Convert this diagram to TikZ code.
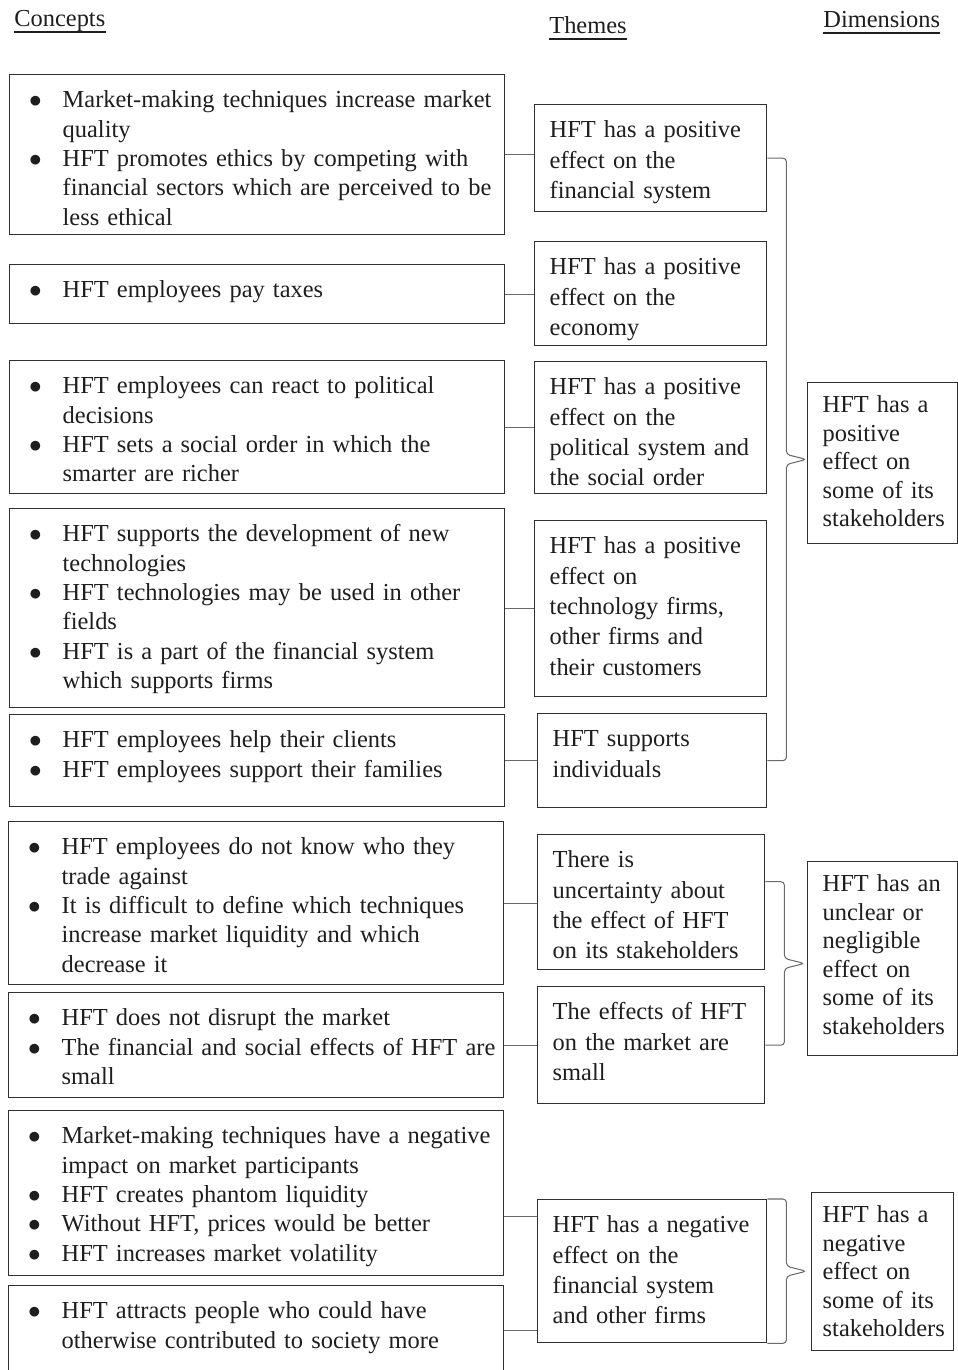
\documentclass[tikz,border=0pt]{standalone}
\usepackage{fontspec}
\setmainfont{Liberation Serif}
\definecolor{hftInk}{HTML}{1E1E1E}
\definecolor{hftLine}{HTML}{303030}
\definecolor{hftLink}{HTML}{6A6A6A}
\usetikzlibrary{calc}
\newcommand{\bitem}{\makebox[0.96cm][l]{\hspace{0.29cm}$\bullet$}}
\newcommand{\bcont}{\hspace*{0.96cm}}

\begin{document}
\begin{tikzpicture}[
  concept/.style={draw=hftLine, line width=0.8pt, text=hftInk, anchor=north west, align=left,
    inner xsep=0.1cm, inner ysep=0pt, text width=9.7cm, text height=0.66cm,
    font=\fontsize{13.9}{16.7}\selectfont},
  theme/.style={draw=hftLine, line width=0.8pt, text=hftInk, anchor=north west, align=left,
    inner xsep=0.3cm, inner ysep=0pt, text width=4.04cm, text height=0.66cm,
    font=\fontsize{13.9}{17.3}\selectfont},
  dimension/.style={draw=hftLine, line width=0.8pt, text=hftInk, anchor=north west, align=left,
    inner xsep=0.3cm, inner ysep=0pt, text width=2.4cm, text height=0.6cm,
    font=\fontsize{13.9}{16.2}\selectfont},
  heading/.style={anchor=base west, inner sep=0pt, text=hftInk, font=\fontsize{13.9}{17}\selectfont},
  link/.style={draw=hftLink, line width=0.6pt},
  dimbrace/.style={link, rounded corners=2pt}
]
  \useasboundingbox (0,0) rectangle (19.14,-27.4);

  % Column headings
  \node[heading] (hconcepts) at (0.28,-0.54) {Concepts};
  \node[heading] (hthemes) at (10.98,-0.68) {Themes};
  \node[heading] (hdims) at (16.46,-0.56) {Dimensions};
  \foreach \h in {hconcepts,hthemes,hdims}
    \draw[hftInk, line width=0.9pt] ([yshift=-0.1cm]\h.base west) -- ([yshift=-0.1cm]\h.base east);

  % Concepts
  \node[concept, text depth=2.54cm] (c1) at (0.18,-1.48) {\bitem Market-making techniques increase market\\
    \bcont quality\\
    \bitem HFT promotes ethics by competing with\\
    \bcont financial sectors which are perceived to be\\
    \bcont less ethical};
  \node[concept, text depth=0.52cm] (c2) at (0.18,-5.28) {\bitem HFT employees pay taxes};
  \node[concept, text depth=2.00cm] (c3) at (0.18,-7.20) {\bitem HFT employees can react to political\\
    \bcont decisions\\
    \bitem HFT sets a social order in which the\\
    \bcont smarter are richer};
  \node[concept, text depth=3.32cm] (c4) at (0.18,-10.16) {\bitem HFT supports the development of new\\
    \bcont technologies\\
    \bitem HFT technologies may be used in other\\
    \bcont fields\\
    \bitem HFT is a part of the financial system\\
    \bcont which supports firms};
  \node[concept, text depth=1.18cm] (c5) at (0.18,-14.28) {\bitem HFT employees help their clients\\
    \bitem HFT employees support their families};
  \node[concept, text depth=2.60cm] (c6) at (0.16,-16.42) {\bitem HFT employees do not know who they\\
    \bcont trade against\\
    \bitem It is difficult to define which techniques\\
    \bcont increase market liquidity and which\\
    \bcont decrease it};
  \node[concept, text depth=1.44cm] (c7) at (0.16,-19.84) {\bitem HFT does not disrupt the market\\
    \bitem The financial and social effects of HFT are\\
    \bcont small};
  \node[concept, text depth=2.64cm] (c8) at (0.16,-22.20) {\bitem Market-making techniques have a negative\\
    \bcont impact on market participants\\
    \bitem HFT creates phantom liquidity\\
    \bitem Without HFT, prices would be better\\
    \bitem HFT increases market volatility};
  \node[concept, text depth=1.14cm] (c9) at (0.16,-25.70) {\bitem HFT attracts people who could have\\
    \bcont otherwise contributed to society more};

  % Themes
  \node[theme, text depth=1.48cm] (t1) at (10.68,-2.08) {HFT has a positive\\effect on the\\financial system};
  \node[theme, text depth=1.42cm] (t2) at (10.68,-4.82) {HFT has a positive\\effect on the\\economy};
  \node[theme, text depth=1.98cm] (t3) at (10.68,-7.22) {HFT has a positive\\effect on the\\political system and\\the social order};
  \node[theme, text depth=2.86cm] (t4) at (10.68,-10.40) {HFT has a positive\\effect on\\technology firms,\\other firms and\\their customers};
  \node[theme, text depth=1.22cm, text width=3.98cm] (t5) at (10.74,-14.26) {HFT supports\\individuals};
  \node[theme, text depth=2.04cm, text width=3.94cm] (t6) at (10.74,-16.68) {There is\\uncertainty about\\the effect of HFT\\on its stakeholders};
  \node[theme, text depth=1.68cm, text width=3.94cm] (t7) at (10.74,-19.72) {The effects of HFT\\on the market are\\small};
  \node[theme, text depth=2.20cm, text width=3.98cm] (t8) at (10.74,-23.98) {HFT has a negative\\effect on the\\financial system\\and other firms};

  % Dimensions
  \node[dimension, text depth=2.62cm] (d1) at (16.14,-7.64) {HFT has a\\positive\\effect on\\some of its\\stakeholders};
  \node[dimension, text depth=3.28cm] (d2) at (16.14,-17.22) {HFT has an\\unclear or\\negligible\\effect on\\some of its\\stakeholders};
  \node[dimension, text depth=2.56cm, text width=2.4cm, inner xsep=0.22cm] (d3) at (16.22,-23.84) {HFT has a\\negative\\effect on\\some of its\\stakeholders};

  % Concepts to themes
  \foreach \c/\t in {c1/t1,c2/t2,c3/t3,c4/t4,c5/t5,c6/t6,c7/t7,c9/t8}
    \draw[link] (\c.east) -- (\c.east -| \t.west);
  \coordinate (c8out) at ([yshift=-0.47cm]c8.east);
  \draw[link] (c8out) -- (c8out -| t8.west);

  % Themes to dimensions
  \coordinate (b2top) at ([yshift=0.41cm]t6.east);
  \foreach \ta/\tb in {t1.east/t5.east, b2top/t7.east, t8.north east/t8.south east} {
    \coordinate (bmid) at ($(\ta)!0.5!(\tb)$);
    \draw[dimbrace] (\ta) -- ++(0.38,0) -- ([shift={(0.38,0.1)}]bmid) -- ([xshift=0.78cm]bmid)
      -- ([shift={(0.38,-0.1)}]bmid) -- ([xshift=0.38cm]\tb) -- (\tb);
  }
\end{tikzpicture}
\end{document}
